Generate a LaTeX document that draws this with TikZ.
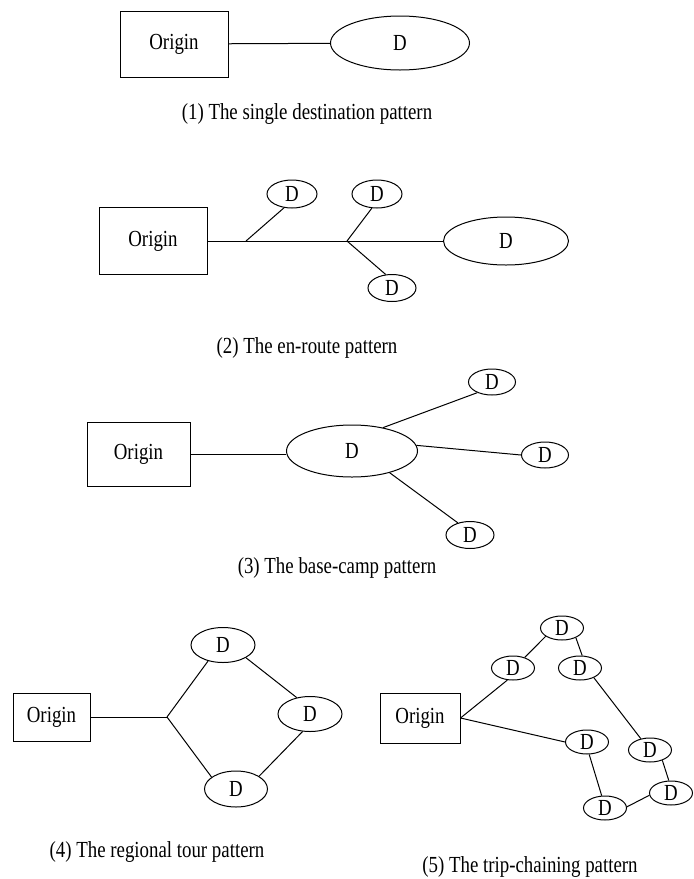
\documentclass[tikz,border=0pt]{standalone}
\usepackage{fontspec}
\setmainfont{Liberation Serif}[FakeStretch=0.82]
\usetikzlibrary{shapes.geometric}
\begin{document}
\begin{tikzpicture}[x=1pt,y=-1pt,
  every node/.style={font=\fontsize{23}{27}\selectfont, inner sep=0pt},
  conn/.style={draw=black, line width=1pt},
  obox/.style={draw=black, line width=1pt, rectangle, minimum width=#1},
  dell/.style={draw=black, line width=1pt, ellipse},
  captxt/.style={anchor=base}]
\useasboundingbox (0,0) rectangle (694,879);
% ---------- (1) ----------
\node[obox=108pt, minimum height=66pt] (o1) at (174,44) {Origin};
\node[dell, minimum width=139pt, minimum height=54pt] (d1) at (400,43) {D};
\draw[conn] (o1) -- (d1);
\node[captxt] (c1) at (307,119) {(1) The single destination pattern};
% ---------- (2) ----------
\node[obox=108pt, minimum height=67pt] (o2) at (153,241) {Origin};
\node[dell, minimum width=125pt, minimum height=48pt] (d2) at (506,241) {D};
\node[dell, minimum width=50pt, minimum height=28pt] (d2a) at (292,194) {D};
\node[dell, minimum width=50pt, minimum height=28pt] (d2b) at (377,194) {D};
\node[dell, minimum width=48pt, minimum height=27pt] (d2c) at (392,288) {D};
\coordinate (j1) at (246,241);
\coordinate (j2) at (347,241);
\draw[conn] (o2) -- (d2);
\draw[conn] (j1) -- (d2a.240);
\draw[conn] (j2) -- (d2b.250);
\draw[conn] (j2) -- (d2c.115);
\node[captxt] (c2) at (307,353) {(2) The en-route pattern};
% ---------- (3) ----------
\node[obox=103pt, minimum height=64pt] (o3) at (138.5,454) {Origin};
\node[dell, minimum width=131pt, minimum height=52pt] (d3) at (352,451) {D};
\node[dell, minimum width=47pt, minimum height=26pt] (d3u) at (492,382) {D};
\node[dell, minimum width=47pt, minimum height=26pt] (d3m) at (545,455) {D};
\node[dell, minimum width=48pt, minimum height=27pt] (d3l) at (470,535) {D};
\draw[conn] (o3.east) -- (o3.east -| d3.west);
\draw[conn] (d3.37) -- (d3u.216);
\draw[conn] (d3.5) -- (d3m.west);
\draw[conn] (d3.-30) -- (d3l.135);
\node[captxt] (c3) at (337,573) {(3) The base-camp pattern};
% ---------- (4) ----------
\node[obox=77pt, minimum height=48pt] (o4) at (51.5,717) {Origin};
\node[dell, minimum width=64pt, minimum height=35pt] (d4a) at (223,645) {D};
\node[dell, minimum width=64pt, minimum height=35pt] (d4b) at (310,714) {D};
\node[dell, minimum width=63pt, minimum height=36pt] (d4c) at (236,789) {D};
\coordinate (j4) at (167,717);
\draw[conn] (o4.east) -- (j4);
\draw[conn] (j4) -- (d4a.227);
\draw[conn] (j4) -- (d4c.154);
\draw[conn] (d4a.-29) -- (d4b.129);
\draw[conn] (d4b.247) -- (d4c.29);
\node[captxt] (c4) at (157,857) {(4) The regional tour pattern};
% ---------- (5) ----------
\node[obox=80pt, minimum height=50pt] (o5) at (420,718) {Origin};
\tikzset{sd/.style={dell, minimum width=43pt, minimum height=24pt}}
\node[sd] (t5)  at (562,628) {D};
\node[sd] (lu5) at (513,668) {D};
\node[sd] (ru5) at (580,668) {D};
\node[sd] (m5)  at (587,742) {D};
\node[sd] (rm5) at (650,750) {D};
\node[sd] (rb5) at (671,793) {D};
\node[sd] (b5)  at (605,808) {D};
\draw[conn] (o5.east) -- (lu5.245);
\draw[conn] (o5.east) -- (m5.west);
\draw[conn] (lu5.42) -- (t5.207);
\draw[conn] (t5.-35) -- (ru5.80);
\draw[conn] (ru5.-35) -- (rm5.129);
\draw[conn] (rm5.-40) -- (rb5.100);
\draw[conn] (rb5.186) -- (b5.3);
\draw[conn] (b5.105) -- (m5.280);
\node[captxt] (c5) at (530,872) {(5) The trip-chaining pattern};
\end{tikzpicture}
\end{document}
